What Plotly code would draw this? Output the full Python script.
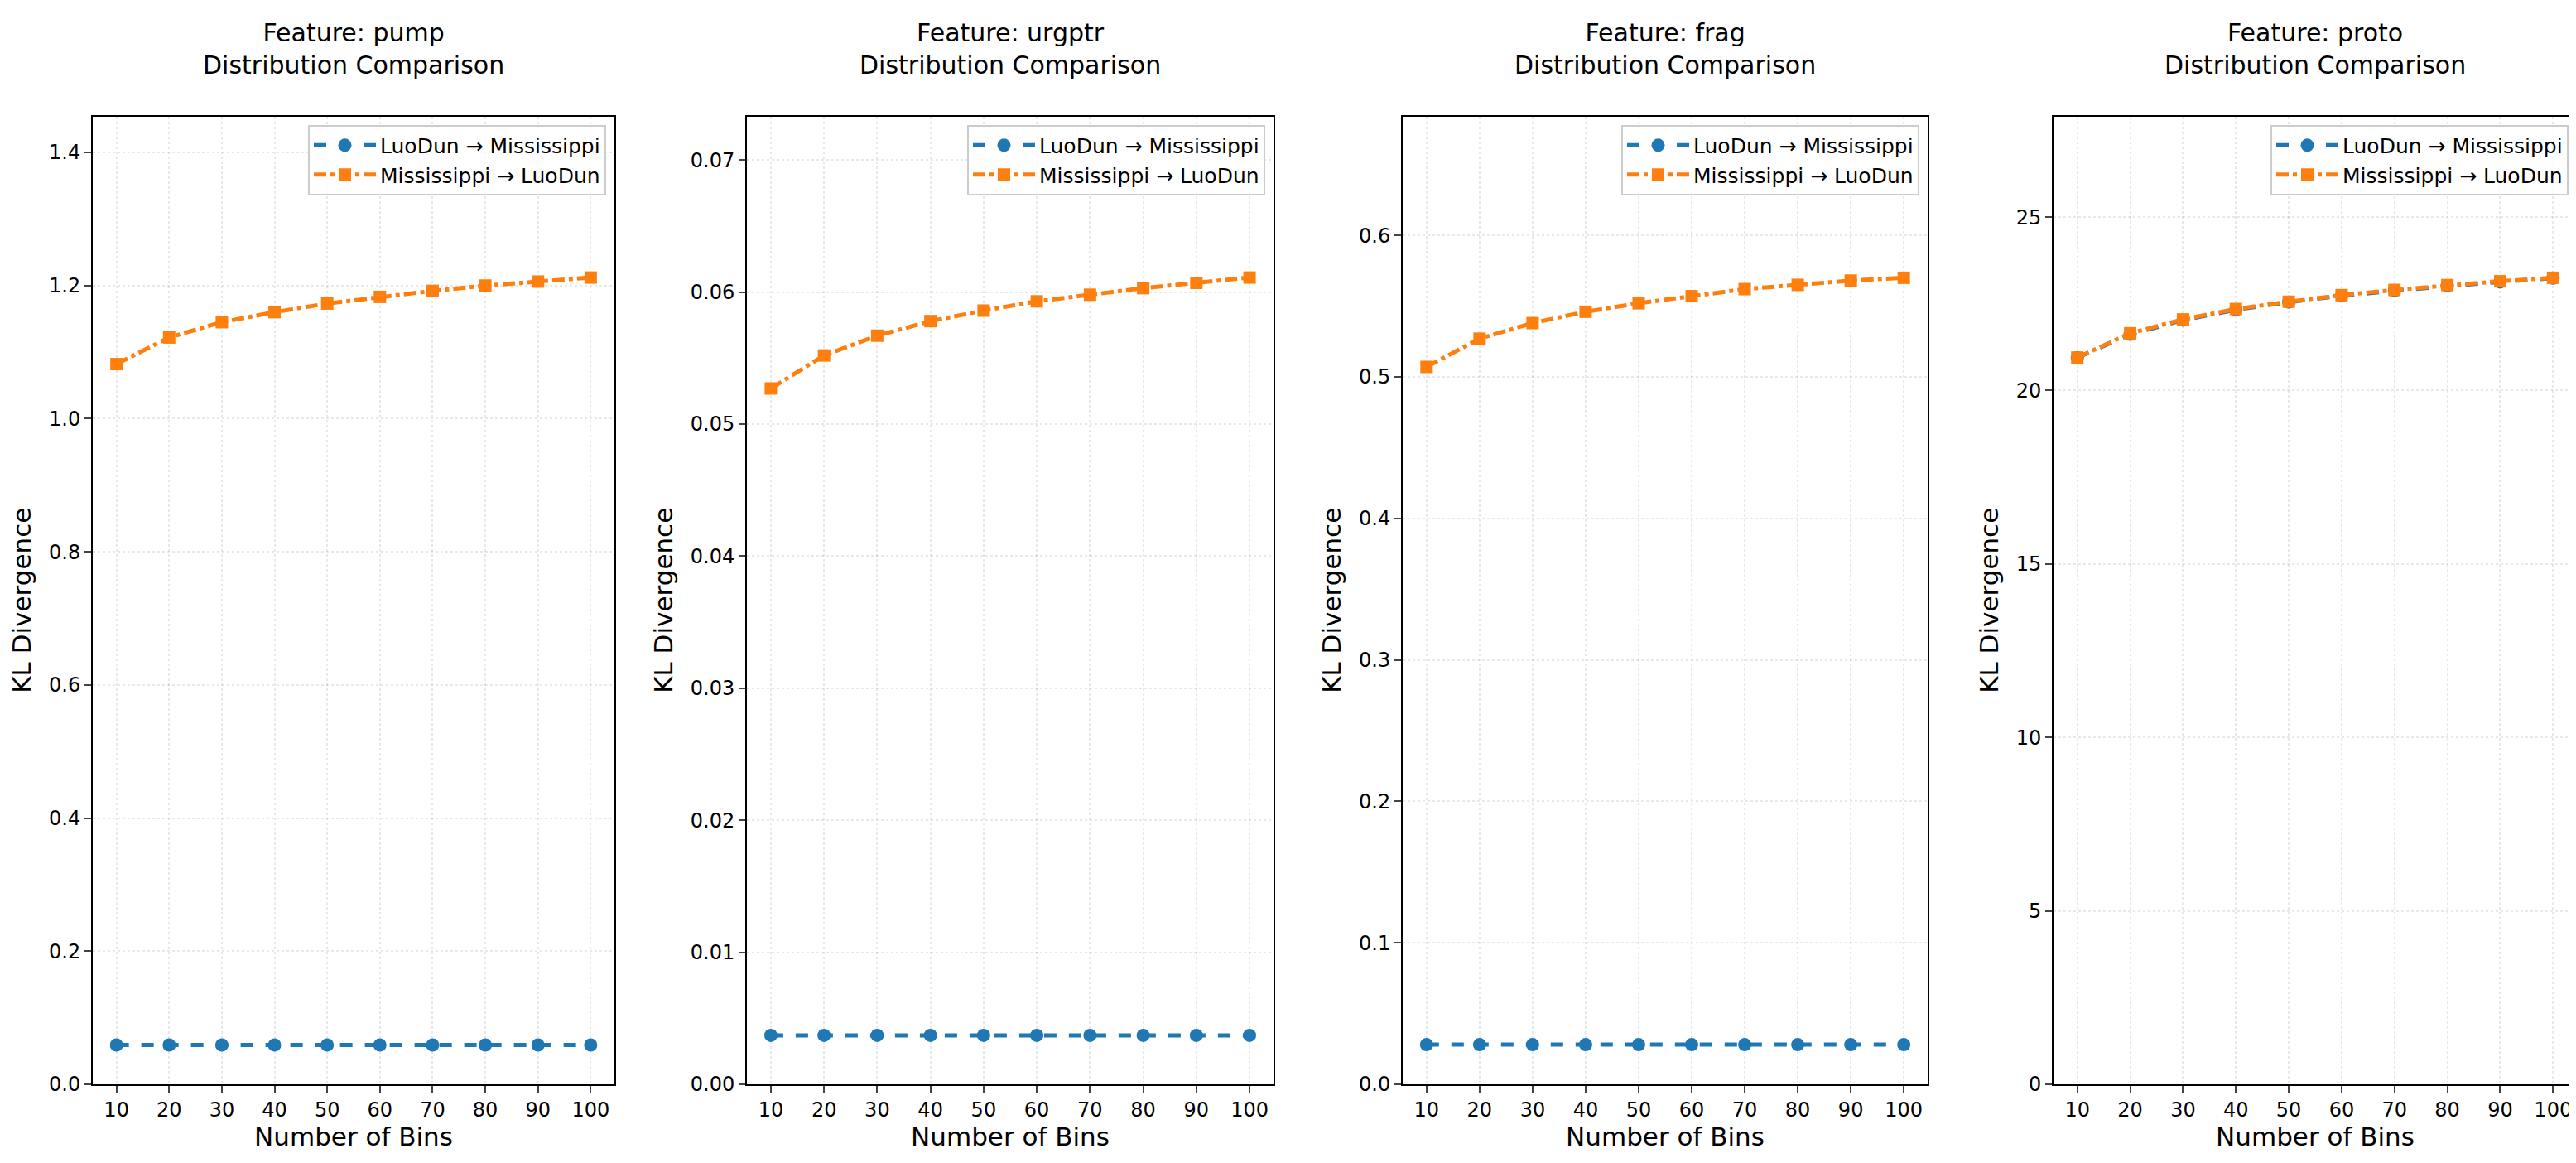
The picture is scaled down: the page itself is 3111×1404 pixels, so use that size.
import plotly.graph_objects as go

bins = [10, 20, 30, 40, 50, 60, 70, 80, 90, 100]
features = ["pump", "urgptr", "frag", "proto"]
l2m = {
    "pump": [0.059] * 10,
    "urgptr": [0.0037] * 10,
    "frag": [0.028] * 10,
    "proto": [20.95, 21.62, 22.03, 22.33, 22.55, 22.73, 22.88, 23.02, 23.13, 23.24],
}
m2l = {
    "pump": [1.082, 1.122, 1.145, 1.160, 1.173, 1.183, 1.192, 1.200, 1.206, 1.212],
    "urgptr": [0.0527, 0.0552, 0.0567, 0.0578, 0.0586, 0.0593, 0.0598, 0.0603, 0.0607, 0.0611],
    "frag": [0.507, 0.527, 0.538, 0.546, 0.552, 0.557, 0.562, 0.565, 0.568, 0.570],
    "proto": [20.95, 21.65, 22.05, 22.35, 22.56, 22.75, 22.90, 23.04, 23.15, 23.25],
}
ymax = {"pump": 1.454, "urgptr": 0.0733, "frag": 0.684, "proto": 27.9}
ydtick = {"pump": 0.2, "urgptr": 0.01, "frag": 0.1, "proto": 5}
yfmt = {"pump": ".1f", "urgptr": ".2f", "frag": ".1f", "proto": "d"}

W, H = 3111, 1404
xdom = [(104, 734), (894, 1530), (1686, 2320), (2472, 3104)]
ytop, ybot = 134, 1314
BLUE, ORANGE = "#1f77b4", "#ff7f0e"
FONT = "DejaVu Sans"

fig = go.Figure()
layout = dict(width=W, height=H, margin=dict(l=0, r=0, t=0, b=0),
              paper_bgcolor="white", plot_bgcolor="white",
              font=dict(family=FONT, color="black"), annotations=[])
for i, f in enumerate(features):
    n = "" if i == 0 else str(i + 1)
    leg = "legend" + n
    fig.add_trace(go.Scatter(x=bins, y=l2m[f], mode="lines+markers", name="LuoDun → Mississippi",
                             line=dict(color=BLUE, width=5, dash="dash"),
                             marker=dict(symbol="circle", size=16, color=BLUE),
                             xaxis="x" + n, yaxis="y" + n, legend=leg))
    fig.add_trace(go.Scatter(x=bins, y=m2l[f], mode="lines+markers", name="Mississippi → LuoDun",
                             line=dict(color=ORANGE, width=5, dash="dashdot"),
                             marker=dict(symbol="square", size=15, color=ORANGE),
                             xaxis="x" + n, yaxis="y" + n, legend=leg))
    x0, x1 = xdom[i][0] / W, xdom[i][1] / W
    layout["xaxis" + n] = dict(domain=[x0, x1], range=[5.5, 104.5], tickvals=bins, anchor="y" + n,
                               showline=True, mirror=True, linecolor="black", linewidth=2,
                               ticks="outside", ticklen=8, tickwidth=2, tickfont=dict(size=24),
                               showgrid=True, gridcolor="rgba(0,0,0,0.09)", griddash="dot", gridwidth=1.5,
                               zeroline=False,
                               title=dict(text="Number of Bins", font=dict(size=31), standoff=8))
    layout["yaxis" + n] = dict(domain=[1 - ybot / H, 1 - ytop / H], range=[0, ymax[f]], dtick=ydtick[f],
                               tickformat=yfmt[f], anchor="x" + n,
                               showline=True, mirror=True, linecolor="black", linewidth=2,
                               ticks="outside", ticklen=8, tickwidth=2, tickfont=dict(size=24),
                               showgrid=True, gridcolor="rgba(0,0,0,0.09)", griddash="dot", gridwidth=1.5,
                               zeroline=False,
                               title=dict(text="KL Divergence", font=dict(size=31), standoff=12))
    layout[leg] = dict(x=x1 - 10 / W, y=1 - (ytop + 10) / H, xanchor="right", yanchor="top",
                       bgcolor="rgba(255,255,255,0.8)", bordercolor="#cccccc", borderwidth=2,
                       font=dict(size=25), itemwidth=75, tracegroupgap=2)
    layout["annotations"].append(dict(text="Feature: " + f + "<br>Distribution Comparison",
                                      x=(x0 + x1) / 2, y=1 - 12 / H, xref="paper", yref="paper",
                                      xanchor="center", yanchor="top", showarrow=False,
                                      font=dict(size=30)))
fig.update_layout(**layout)
fig.write_html("out.html")
